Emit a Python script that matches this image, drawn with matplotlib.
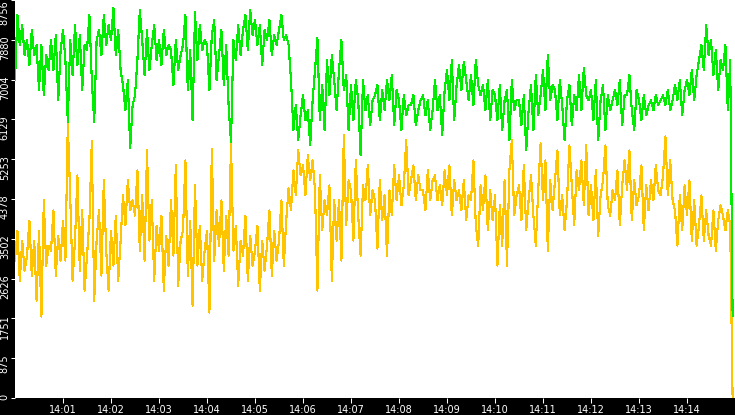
import matplotlib
matplotlib.use("Agg")
import matplotlib.pyplot as plt
import matplotlib.transforms as mtransforms
import pandas as pd

# sampled every 3 s from 14:00:00
green = [
    6992, 8425, 7764, 8205, 7543, 7874, 7323, 8094, 7543, 7764,
    6772, 7764, 6661, 7543, 7213, 7874, 7213, 7984, 6551, 7654,
    8094, 7433, 6066, 7874, 7102, 8205, 7323, 7984, 6772, 7764,
    7654, 8425, 6992, 6066, 7874, 8094, 7543, 8425, 7764, 8205,
    7874, 8580, 7543, 8094, 7213, 6882, 6330, 6992, 5493, 6441,
    6661, 7433, 8536, 7874, 7102, 8094, 7213, 7764, 8205, 7433,
    7874, 7323, 8094, 7543, 7764, 7654, 6882, 7874, 7213, 7543,
    7764, 8425, 6772, 7654, 6110, 8491, 7433, 8205, 7654, 7874,
    7764, 6772, 7984, 8315, 6992, 7543, 8094, 6882, 7764, 6441,
    5625, 7874, 7433, 8205, 7543, 8094, 8425, 7654, 8536, 7984,
    8315, 7764, 8205, 7323, 8094, 7874, 8315, 7543, 7984, 7764,
    8094, 8425, 7874, 7984, 7764, 6992, 5889, 6441, 5669, 6220,
    6661, 6110, 6330, 5559, 6551, 7213, 7918, 6110, 6882, 5889,
    7433, 6661, 7543, 6992, 6330, 7213, 7874, 6772, 7102, 5889,
    6882, 6110, 6992, 6551, 5338, 6992, 6330, 6661, 6000, 6551,
    6661, 6882, 6110, 6772, 6330, 6992, 6551, 7102, 6000, 6772,
    6551, 5889, 6661, 6220, 6441, 6441, 6661, 6000, 6330, 6551,
    6661, 6220, 6551, 5889, 6330, 6992, 6330, 6661, 5779, 6772,
    7213, 6551, 7433, 6110, 6882, 7323, 6772, 7389, 6992, 6551,
    7102, 6441, 7433, 6882, 6661, 6882, 6330, 6992, 6110, 6772,
    6661, 6110, 6882, 5889, 6551, 6772, 5669, 6992, 6330, 6551,
    6551, 6000, 6661, 5449, 6330, 6882, 5889, 7102, 6220, 6661,
    7213, 6330, 7543, 6551, 6882, 6772, 6110, 6992, 6441, 5669,
    6551, 6882, 6000, 6661, 6330, 7102, 6330, 7257, 6661, 6551,
    6772, 6110, 6992, 5669, 6551, 6882, 5889, 6661, 6330, 6551,
    6772, 6441, 6992, 6000, 6661, 6661, 7102, 6330, 5889, 6772,
    6551, 6110, 6661, 6220, 6441, 6551, 6330, 6661, 6441, 6551,
    6661, 6441, 6772, 6330, 6551, 6882, 6551, 6992, 6220, 6772,
    6992, 6661, 7213, 6551, 7102, 7433, 7764, 7213, 8205, 7543,
    7874, 7102, 7654, 6772, 7433, 7213, 7764, 6330, 7433, 1810,
]
yellow = [
    3023, 3685, 2582, 3464, 2803, 3133, 3905, 2692, 3464, 2141,
    3685, 1788, 4346, 2913, 3354, 3244, 4126, 2692, 3574, 3023,
    3905, 3023, 6044, 4456, 2582, 3464, 4897, 2803, 4126, 2362,
    3133, 3905, 5647, 2141, 3464, 4126, 2692, 4787, 3244, 2362,
    3685, 2913, 4015, 2582, 3464, 4456, 3795, 4787, 4126, 4346,
    4015, 5008, 3244, 4456, 3023, 5449, 3464, 4346, 2582, 3795,
    3244, 4015, 2362, 3574, 2913, 4346, 3133, 5118, 2472, 3464,
    3685, 5228, 2692, 3905, 2031, 4677, 2913, 3795, 2582, 3244,
    3685, 1877, 5488, 3023, 4126, 3354, 4346, 2803, 4015, 3133,
    5603, 3244, 3795, 2472, 3464, 3133, 4015, 2582, 3574, 2913,
    3244, 3795, 2362, 3464, 2803, 3354, 4126, 2692, 3685, 3023,
    3464, 4346, 2913, 3905, 4611, 4126, 5008, 4456, 5449, 4897,
    5118, 4456, 5338, 4787, 5228, 4567, 2362, 4897, 3685, 4346,
    4015, 4677, 2582, 4346, 3464, 4346, 3023, 5779, 3795, 4787,
    4567, 3464, 5228, 4015, 3133, 4677, 4346, 5118, 4015, 4567,
    4346, 3288, 4787, 3905, 4456, 3133, 4567, 4015, 5118, 4346,
    4897, 4236, 4677, 5669, 4456, 4787, 5118, 4346, 4897, 4567,
    4567, 4126, 5008, 4346, 4787, 4897, 4346, 4677, 4236, 5008,
    4456, 5118, 4015, 4787, 4346, 4567, 4126, 4787, 3905, 4456,
    4346, 5228, 3795, 3354, 4677, 4126, 4897, 3685, 4567, 3905,
    4456, 2913, 4236, 3354, 4787, 2913, 5008, 5669, 4015, 4456,
    4677, 3905, 5118, 3685, 4346, 4897, 4015, 3354, 4567, 5603,
    4346, 5228, 3244, 4787, 4126, 4787, 5449, 4015, 4456, 3685,
    4346, 5559, 4677, 3795, 5008, 4567, 5228, 4236, 5559, 4015,
    4677, 3905, 5008, 3574, 4456, 4787, 5559, 4236, 4015, 4567,
    4346, 5008, 3795, 4677, 5228, 4567, 5449, 3905, 4787, 4236,
    4456, 5118, 3685, 4677, 4126, 4787, 4346, 5118, 4567, 4456,
    4897, 5757, 4456, 5228, 4346, 4126, 3354, 4456, 3685, 4677,
    4015, 4787, 3464, 4346, 3354, 3795, 4456, 3464, 4126, 3574,
    3354, 4126, 3244, 3905, 4236, 4015, 3685, 4126, 3795, 0,
]
ytick_vals = [0, 875, 1751, 2626, 3502, 4378, 5253, 6129, 7004, 7880, 8756]
xtick_labels = ["14:01", "14:02", "14:03", "14:04", "14:05", "14:06", "14:07",
                "14:08", "14:09", "14:10", "14:11", "14:12", "14:13", "14:14"]

day = "2000-01-01 "
times = pd.date_range(day + "14:00:00", periods=len(green), freq="3s")

fig = plt.figure(figsize=(7.35, 4.15), dpi=100, facecolor="black")
ax = fig.add_axes([15 / 735, 17 / 415, 720 / 735, 398 / 415])
ax.set_facecolor("white")

ax.plot(times, yellow, color="#ffc400", lw=0.8, antialiased=False, zorder=2)
ax.plot(times, green, color="#00ec00", lw=0.8, antialiased=False, zorder=3)

ax.set_xlim(pd.Timestamp(day + "14:00:00"), pd.Timestamp(day + "14:15:00"))
ax.set_ylim(0, 8756)

ax.set_xticks(pd.to_datetime([day + t for t in xtick_labels]))
ax.set_xticklabels(xtick_labels)
ax.set_yticks(ytick_vals)
ax.set_yticklabels([str(v) for v in ytick_vals], rotation=90, va="top")

for s in ax.spines.values():
    s.set_visible(False)

ax.tick_params(axis="x", colors="white", labelsize=7, length=3.6, width=0.75, pad=1.2)
ax.tick_params(axis="y", colors="white", labelsize=7, length=2.9, width=0.75, pad=0.8)

# nudge the vertical labels up a little so they start just above the tick
# (the top one stays put, there is no room above it)
shift = mtransforms.ScaledTranslation(0, 3 / 72, fig.dpi_scale_trans)
for lab in ax.get_yticklabels()[:-1]:
    lab.set_transform(lab.get_transform() + shift)

fig.savefig("out.png", dpi=100, facecolor="black")
